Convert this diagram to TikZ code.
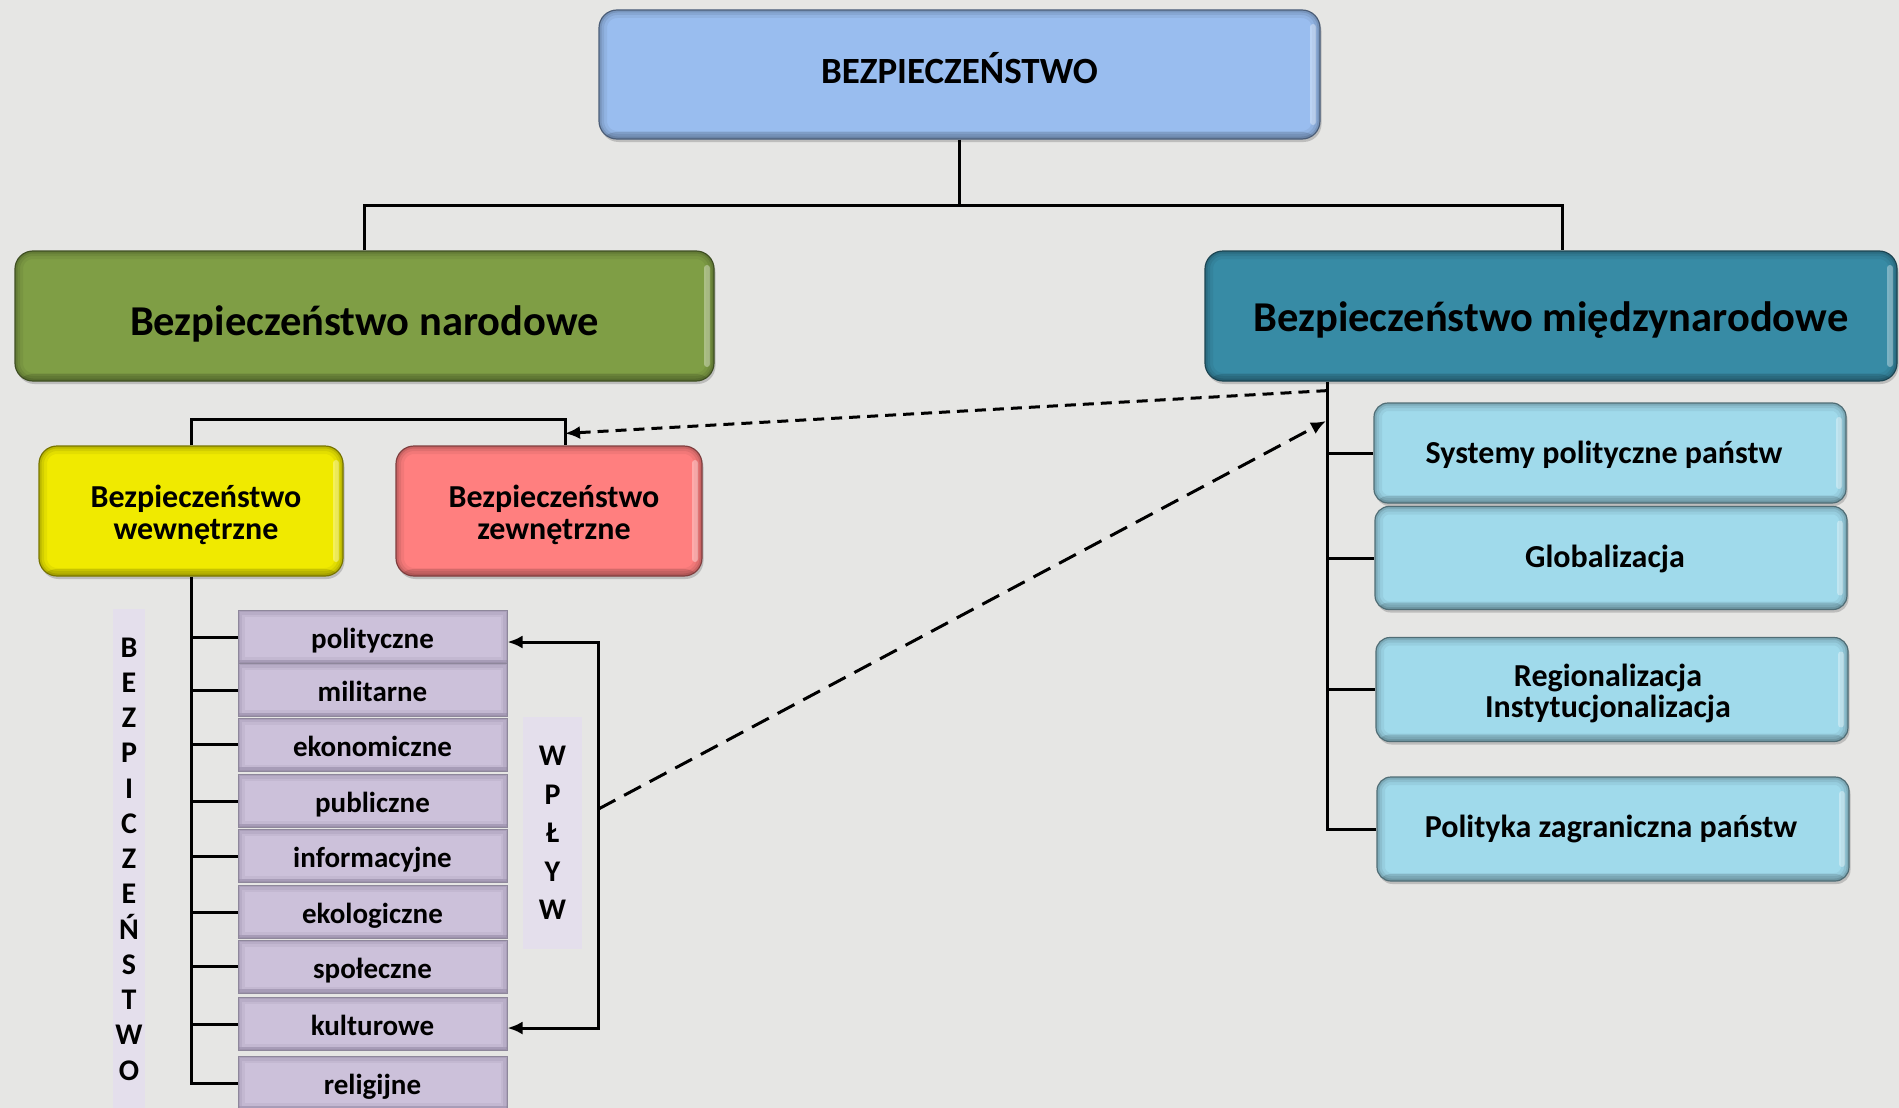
\documentclass[tikz,border=0pt]{standalone}
\usepackage{fontspec}
\setmainfont{Carlito}
\usetikzlibrary{arrows.meta,shadows}
\definecolor{bgc}{HTML}{E6E6E4}
\definecolor{topc}{HTML}{99BDEF}
\definecolor{greenc}{HTML}{7F9E45}
\definecolor{tealc}{HTML}{378BA5}
\definecolor{yelc}{HTML}{F0EA00}
\definecolor{redc}{HTML}{FF7F7F}
\definecolor{lbluec}{HTML}{A0DAEB}
\definecolor{purpc}{HTML}{CCC1DA}
\definecolor{purpd}{HTML}{5E5470}
\definecolor{stripc}{HTML}{E4DFEC}
\begin{document}
\begin{tikzpicture}[x=1pt,y=-1pt,
  rbox/.style 2 args={rectangle, rounded corners=#2, draw=#1!50!black, line width=1.2pt, fill=#1,
    drop shadow={shadow xshift=1.5pt,shadow yshift=-3pt,opacity=0.4},
    inner sep=0pt,
    path picture={
      \foreach \w/\o in {16/0.05,10/0.07,5/0.1}{
        \draw[black, opacity=\o, line width=\w pt, rounded corners=#2]
          (path picture bounding box.south west) rectangle (path picture bounding box.north east);}
      \fill[black, opacity=0.12]
          (path picture bounding box.south west) rectangle ([yshift=7pt]path picture bounding box.south east);
      \fill[white, opacity=0.35, rounded corners=3pt]
          ([xshift=-10pt,yshift=-14pt]path picture bounding box.north east) rectangle
          ([xshift=-4pt,yshift=14pt]path picture bounding box.south east);
    }},
  btext/.style={align=center, inner sep=0pt, text=black},
  pbox/.style={rectangle, draw=purpd!70, line width=1pt, fill=purpc, minimum width=269pt,
    minimum height=53pt, inner sep=0pt, text height=26.5pt, text depth=3.5pt,
    font={\bfseries\fontsize{29}{32}\selectfont},
    path picture={
      \foreach \w/\o in {13/0.08,8/0.1,3/0.14}{
        \draw[purpd, opacity=\o, line width=\w pt]
          (path picture bounding box.south west) rectangle (path picture bounding box.north east);}
      \fill[purpd, opacity=0.18]
          (path picture bounding box.south west) rectangle ([yshift=4pt]path picture bounding box.south east);
    }},
  lbbox/.style={rbox={lbluec}{14pt}, minimum width=472pt},
  lbtext/.style={btext, font={\bfseries\fontsize{32}{31.5}\selectfont}},
  strip/.style={rectangle, fill=stripc, inner sep=0pt, align=center},
  conn/.style={line width=3pt, draw=black},
  darr/.style={-{Latex[length=15pt,width=13pt]}, line width=3pt},
]
\useasboundingbox (0,0) rectangle (1899,1108);
\fill[bgc] (0,0) rectangle (1899,1108);

% main boxes
\node[rbox={topc}{18pt}, minimum width=721pt, minimum height=129pt] (top) at (959.5,74.5) {};
\node[btext, font={\bfseries\fontsize{37}{40}\selectfont}, yshift=6pt] (topt) at (top) {BEZPIECZEŃSTWO};
\node[rbox={greenc}{18pt}, minimum width=699pt, minimum height=130pt] (nar) at (364.5,316) {};
\node[btext, font={\bfseries\fontsize{42.5}{44}\selectfont}, yshift=-8pt] (nart) at (nar) {Bezpieczeństwo narodowe};
\node[rbox={tealc}{18pt}, minimum width=692pt, minimum height=130pt] (mie) at (1551,316) {};
\node[btext, font={\bfseries\fontsize{42.5}{44}\selectfont}, yshift=-4pt] (miet) at (mie) {Bezpieczeństwo międzynarodowe};
\node[rbox={yelc}{18pt}, minimum width=304pt, minimum height=130pt] (wew) at (191,511) {};
\node[btext, font={\bfseries\fontsize{32}{31.5}\selectfont}, xshift=5pt, yshift=-4pt] (wewt) at (wew) {Bezpieczeństwo\\wewnętrzne};
\node[rbox={redc}{18pt}, minimum width=306pt, minimum height=130pt] (zew) at (549,511) {};
\node[btext, font={\bfseries\fontsize{32}{31.5}\selectfont}, xshift=5pt, yshift=-4pt] (zewt) at (zew) {Bezpieczeństwo\\zewnętrzne};

% international sub-boxes
\node[lbbox, minimum height=100pt] (sys) at (1610,453) {};
\node[lbtext, xshift=-6pt, yshift=-2pt] (syst) at (sys) {Systemy polityczne państw};
\node[lbbox, minimum height=103pt] (glob) at (1611,558) {};
\node[lbtext, xshift=-6pt, yshift=-1pt] (globt) at (glob) {Globalizacja};
\node[lbbox, minimum height=104pt] (reg) at (1612,689.5) {};
\node[lbtext, xshift=-4pt, yshift=-4pt] (regt) at (reg) {Regionalizacja\\Instytucjonalizacja};
\node[lbbox, minimum height=104pt] (pol) at (1613,829) {};
\node[lbtext, xshift=-2pt] (polt) at (pol) {Polityka zagraniczna państw};

% strips
\node[strip, minimum width=32pt, minimum height=500pt,
  font={\bfseries\fontsize{30}{35.25}\selectfont}] (bstrip) at (129,859)
  {B\\E\\Z\\P\\I\\C\\Z\\E\\Ń\\S\\T\\W\\O};
\node[strip, minimum width=59pt, minimum height=232pt,
  font={\bfseries\fontsize{30}{38.5}\selectfont}] (wstrip) at (552.5,833)
  {W\\P\\Ł\\Y\\W};

% internal sub-boxes
\node[pbox] (p1) at (372.5,637) {polityczne};
\node[pbox] (p2) at (372.5,690) {militarne};
\node[pbox] (p3) at (372.5,744.5) {ekonomiczne};
\node[pbox] (p4) at (372.5,801) {publiczne};
\node[pbox] (p5) at (372.5,856) {informacyjne};
\node[pbox] (p6) at (372.5,912) {ekologiczne};
\node[pbox] (p7) at (372.5,966.5) {społeczne};
\node[pbox] (p8) at (372.5,1024) {kulturowe};
\node[pbox] (p9) at (372.5,1083) {religijne};

% top tree
\draw[conn] (top.south) -- ++(0,66) coordinate (j1);
\draw[conn] (nar.north) |- (j1) -| ([xshift=11pt]mie.north);

% bracket wew/zew
\draw[conn] (wew.north) -- ++(0,-26) -| ([xshift=16pt]zew.north);

% internal list
\draw[conn] (wew.south) |- (p9.west);
\foreach \p in {p1,p2,p3,p4,p5,p6,p7,p8}{
  \draw[conn] (wew.south |- \p.west) -- (\p.west);
}

% international list
\draw[conn] ([xshift=123pt]mie.south west) |- (pol.west);
\foreach \b in {sys,glob,reg}{
  \draw[conn] ([xshift=123pt]mie.south west |- \b.west) -- (\b.west);
}

% WPLYW bracket
\draw[conn, {Latex[length=15pt,width=13pt]}-{Latex[length=15pt,width=13pt]}]
  ([yshift=-5pt]p1.east) -- ++(91,0) coordinate (brt) |- ([yshift=-4pt]p8.east);
\coordinate (wout) at (brt |- 0,809);
\coordinate (miein) at (1326,421);

% dashed arrows
\draw[darr, dash pattern=on 11pt off 7pt]
  ([xshift=123pt,yshift=-9pt]mie.south west) -- ([xshift=16pt,yshift=12pt]zew.north);
\draw[darr, dash pattern=on 19pt off 10pt] (wout) -- (miein);
\end{tikzpicture}
\end{document}
